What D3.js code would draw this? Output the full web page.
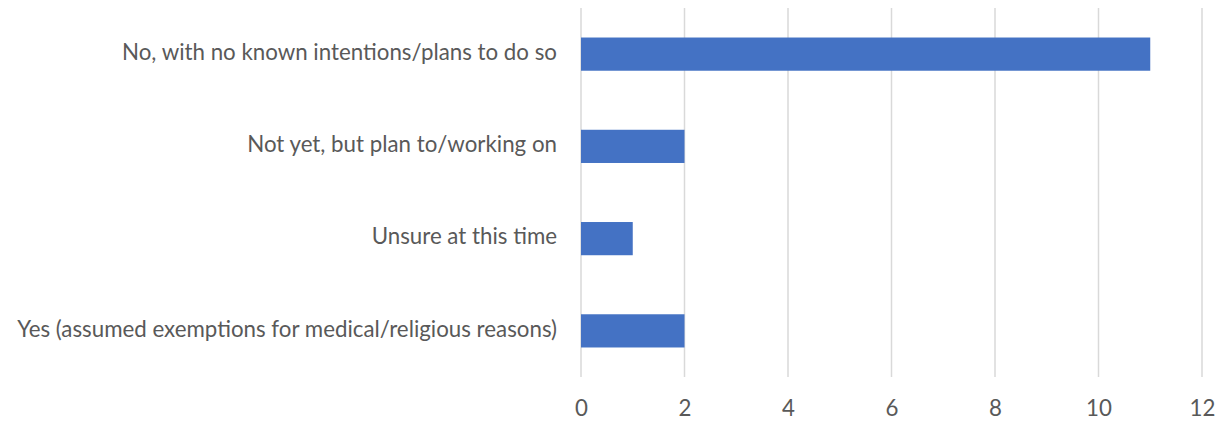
<!DOCTYPE html>
<html>
<head>
<meta charset="utf-8">
<script src="https://cdn.jsdelivr.net/npm/d3@7"></script>
<style>
  html, body { margin: 0; padding: 0; background: #ffffff; }
  svg { display: block; }
  text { font-family: Lato, "Open Sans", sans-serif; fill: #595959; }
</style>
</head>
<body>
<svg id="chart" width="1220" height="422"></svg>
<script>
// Survey responses (top to bottom)
const categories = [
  "No, with no known intentions/plans to do so",
  "Not yet, but plan to/working on",
  "Unsure at this time",
  "Yes (assumed exemptions for medical/religious reasons)"
];
const counts = [11, 2, 1, 2];
const xTicks = [0, 2, 4, 6, 8, 10, 12];

const svg = d3.select("#chart");
const margin = { left: 581, right: 18, top: 8, bottom: 45 };
const width = 1220, height = 422;
const fontSize = "22.3px";

const x = d3.scaleLinear()
  .domain([0, 12])
  .range([margin.left, width - margin.right]);

const y = d3.scaleBand()
  .domain(categories)
  .range([margin.top, height - margin.bottom])
  .paddingInner(0.64)
  .paddingOuter(0.32);

// vertical gridlines
svg.append("g")
  .selectAll("line")
  .data(xTicks)
  .join("line")
  .attr("x1", d => x(d)).attr("x2", d => x(d))
  .attr("y1", margin.top).attr("y2", height - margin.bottom)
  .attr("stroke", "#d9d9d9")
  .attr("stroke-width", 1.5);

// bars
svg.append("g")
  .selectAll("rect")
  .data(categories)
  .join("rect")
  .attr("x", x(0))
  .attr("y", d => y(d))
  .attr("width", (d, i) => x(counts[i]) - x(0))
  .attr("height", y.bandwidth())
  .attr("fill", "#4472c4");

// x axis tick labels
const xAxis = d3.axisBottom(x).tickValues(xTicks).tickSize(0).tickPadding(0);
const gx = svg.append("g")
  .attr("transform", `translate(0,${height - margin.bottom})`)
  .call(xAxis);
gx.select(".domain").remove();
gx.selectAll("text")
  .attr("dy", null)
  .attr("y", 33)
  .attr("dominant-baseline", "middle")
  .style("font-size", fontSize)
  .style("font-family", "Lato, 'Open Sans', sans-serif")
  .attr("fill", "#595959");

// category labels
const yAxis = d3.axisLeft(y).tickSize(0).tickPadding(24);
const gy = svg.append("g")
  .attr("transform", `translate(${margin.left},0)`)
  .call(yAxis);
gy.select(".domain").remove();
gy.selectAll("text")
  .attr("dy", null)
  .attr("dominant-baseline", "middle")
  .style("font-size", fontSize)
  .style("font-family", "Lato, 'Open Sans', sans-serif")
  .attr("fill", "#595959");
</script>
</body>
</html>
